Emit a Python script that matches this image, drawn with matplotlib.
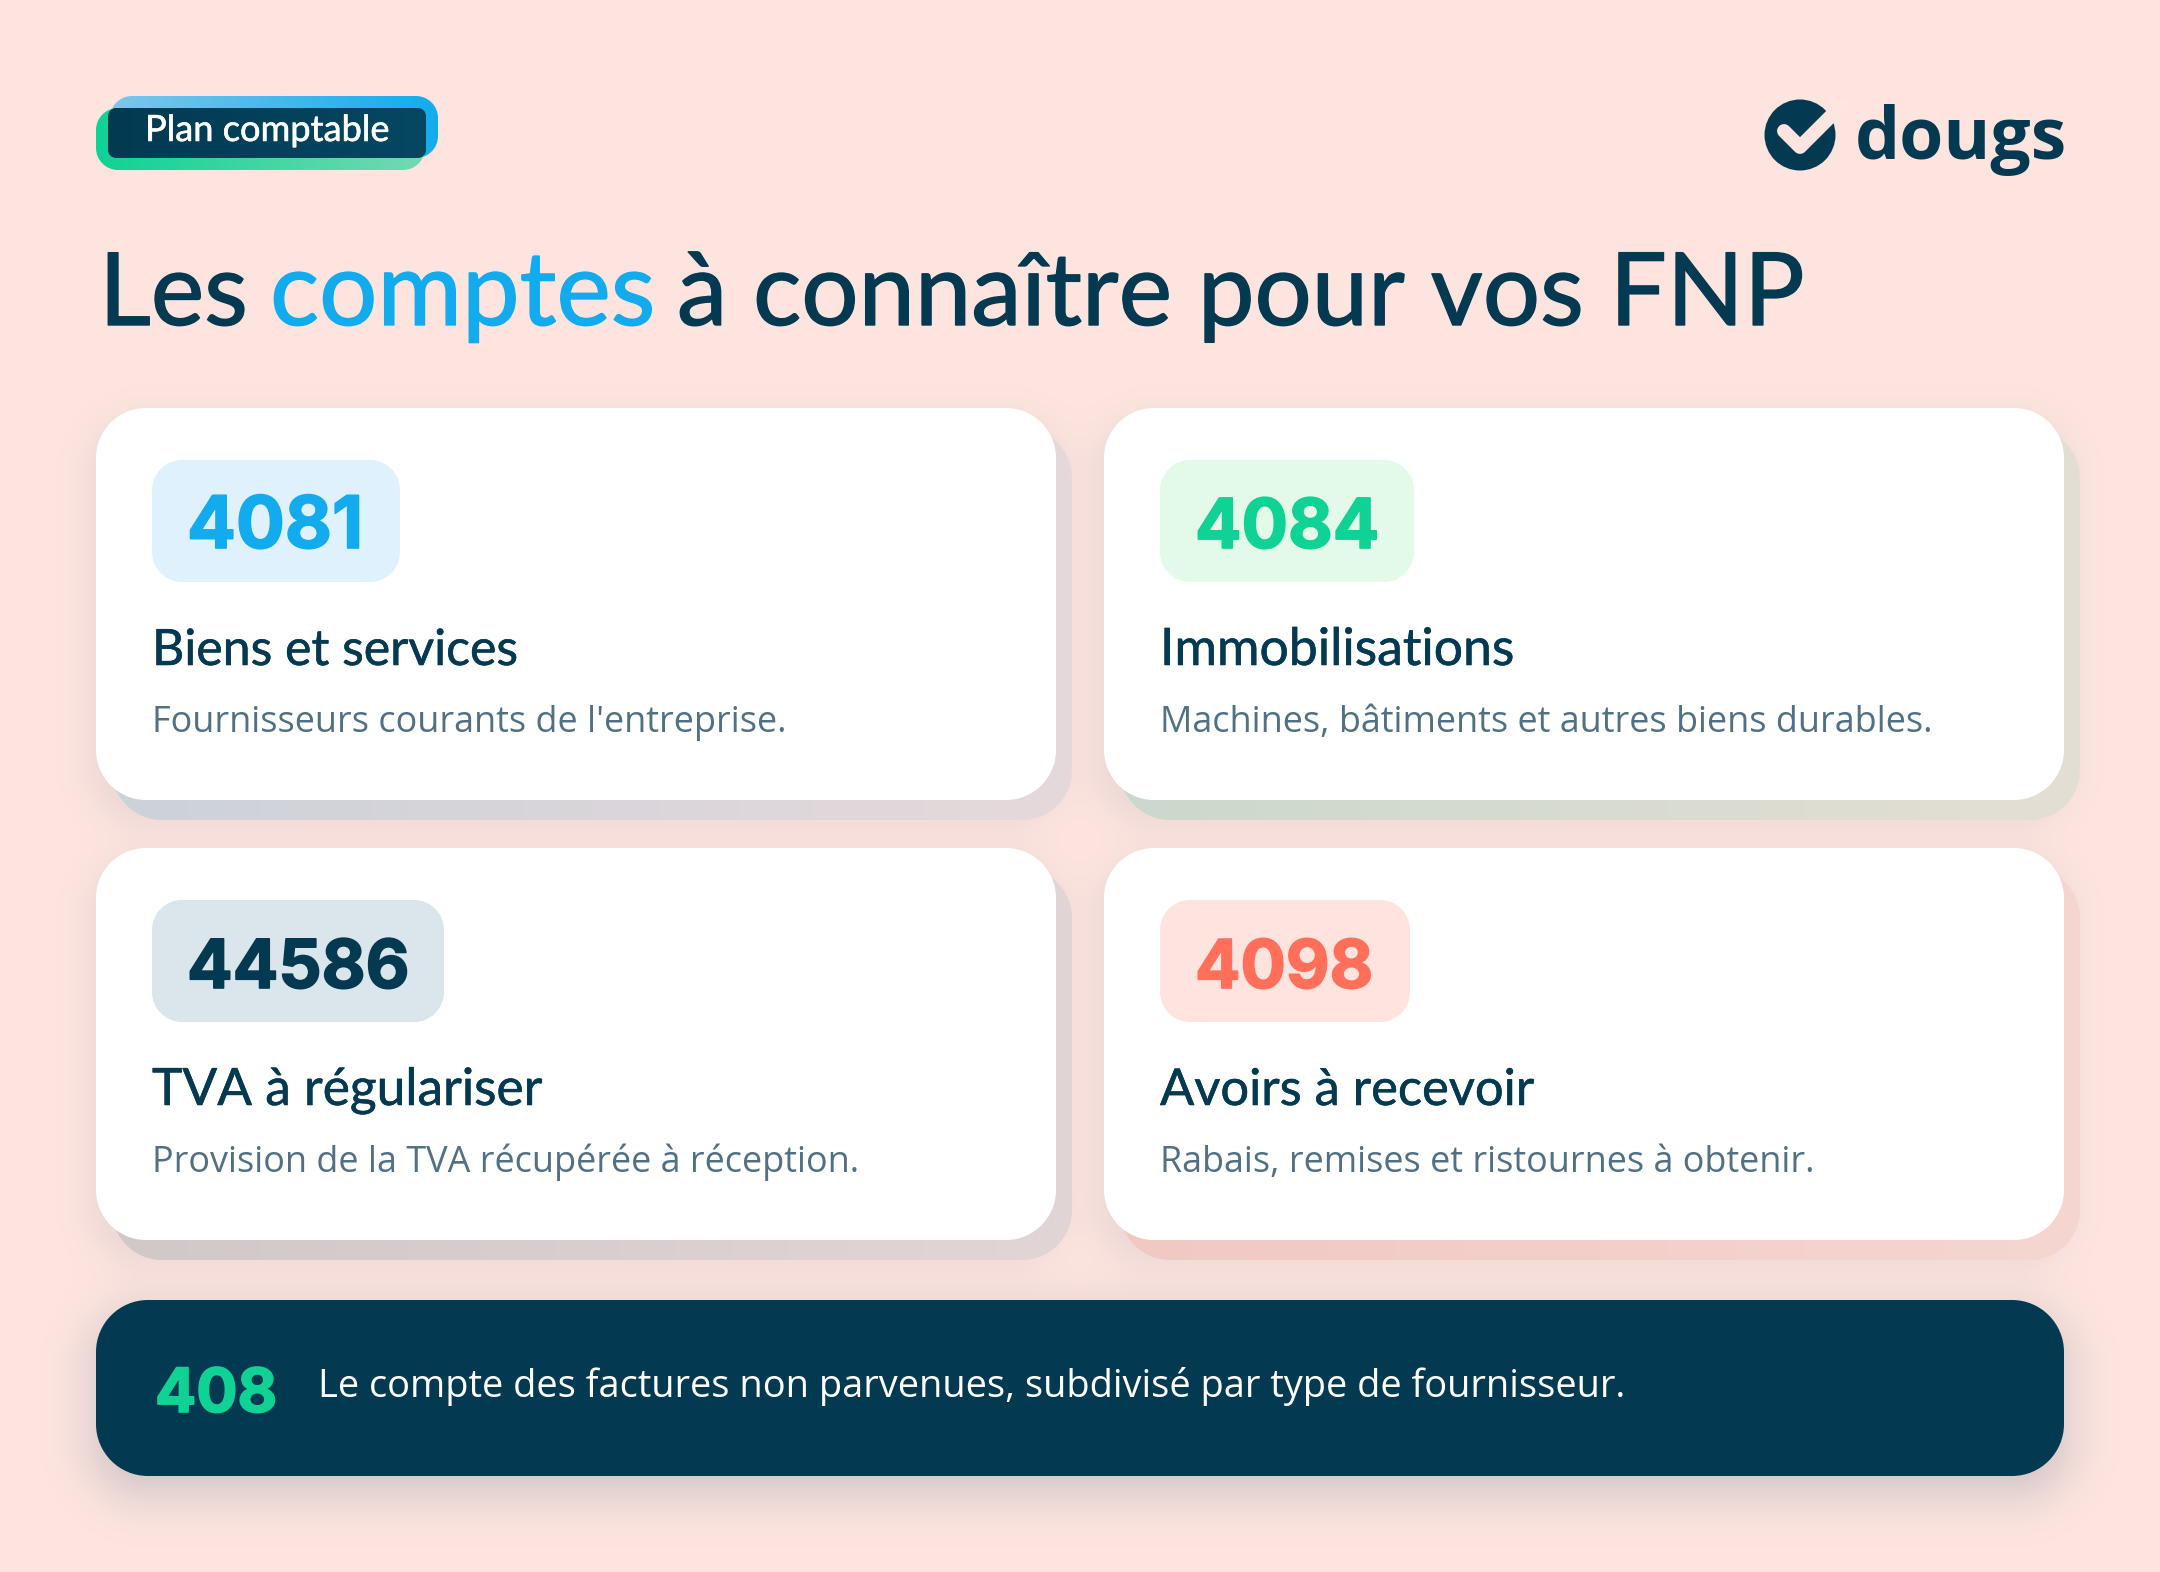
import numpy as np
import matplotlib
matplotlib.use('Agg')
import matplotlib.pyplot as plt
from matplotlib.patches import PathPatch, Circle
from matplotlib.path import Path
import matplotlib.patheffects as pe

W, H = 2160, 1572

BG = '#FFE5E0'
NAVY = '#033A51'
BLUE = '#12ACEE'
GREEN = '#10D294'
CORAL = '#FF6F59'
GREY = '#527083'

codes = ['4081', '4084', '44586', '4098']
titles = ['Biens et services', 'Immobilisations', 'TVA à régulariser', 'Avoirs à recevoir']
descs = ['Fournisseurs courants de l\'entreprise.',
         'Machines, bâtiments et autres biens durables.',
         'Provision de la TVA récupérée à réception.',
         'Rabais, remises et ristournes à obtenir.']
code_colors = [BLUE, GREEN, NAVY, CORAL]
chip_colors = ['#DFF1FC', '#E4FAE9', '#DAE6EB', '#FFE3DE']
# couleur de l'ombre pleine, gauche puis droite
edge_left = ['#CCD2D9', '#CCD8CD', '#D1C8C8', '#F2C8C3']
edge_right = ['#E6D9DB', '#E4DFD4', '#E2D5D6', '#F5D6D1']

card_x = [96, 1104, 96, 1104]
card_y = [408, 408, 848, 848]
chip_w = [248, 254, 292, 250]
# largeurs de texte mesurées sur la référence
code_ends = [363, 1379, 409, 1373]
title_ends = [518, 1514, 542, 1534]
desc_ends = [787, 1934, 860, 1816]

fig = plt.figure(figsize=(W / 100, H / 100), dpi=100)
ax = fig.add_axes([0, 0, 1, 1])
ax.axis('off')


def hex_rgb(c):
    return np.array(matplotlib.colors.to_rgb(c))


def round_box(x, y, w, h, r, **kw):
    # coins circulaires (boxstyle round donne des coins trop carrés)
    k = r * 0.448
    x1, y1 = x + w, y + h
    verts = [(x + r, y), (x1 - r, y), (x1 - k, y), (x1, y + k), (x1, y + r),
             (x1, y1 - r), (x1, y1 - k), (x1 - k, y1), (x1 - r, y1),
             (x + r, y1), (x + k, y1), (x, y1 - k), (x, y1 - r),
             (x, y + r), (x, y + k), (x + k, y), (x + r, y), (x + r, y)]
    c4 = Path.CURVE4
    ops = [Path.MOVETO, Path.LINETO, c4, c4, c4, Path.LINETO, c4, c4, c4,
           Path.LINETO, c4, c4, c4, Path.LINETO, c4, c4, c4, Path.CLOSEPOLY]
    p = PathPatch(Path(verts, ops), lw=0, **kw)
    ax.add_patch(p)
    return p


def gradient(patch, x, y, w, h, left, right, z):
    g = np.linspace(0, 1, 256)[None, :, None]
    img = hex_rgb(left) * (1 - g) + hex_rgb(right) * g
    im = ax.imshow(img, extent=(x, x + w, y + h, y), aspect='auto', zorder=z,
                   interpolation='bilinear')
    im.set_clip_path(patch)


def place(s, x0, x1, base, family, weight, color, size=30, z=10, bold=0):
    # on ajuste le corps pour retrouver la largeur de la référence
    t = ax.text(x0, base, s, family=family, weight=weight, color=color, fontsize=size,
                va='baseline', ha='left', zorder=z)
    w = t.get_window_extent(fig.canvas.get_renderer()).width
    t.set_fontsize(size * (x1 - x0) / w)
    if bold:
        t.set_path_effects([pe.withStroke(linewidth=bold, foreground=color)])
    return t


# fond + ombres floues
yy, xx = np.mgrid[0:H, 0:W] + 0.5


def soft_shadow(x, y, w, h, r, sigma):
    cx, cy = x + w / 2, y + h / 2
    dx = np.abs(xx - cx) - (w / 2 - r)
    dy = np.abs(yy - cy) - (h / 2 - r)
    d = np.hypot(np.maximum(dx, 0), np.maximum(dy, 0)) + np.minimum(np.maximum(dx, dy), 0) - r
    return 1 / (1 + np.exp(np.clip(d / sigma, -30, 30)))


alpha = np.zeros((H, W))
for x, y in zip(card_x, card_y):
    alpha = 1 - (1 - alpha) * (1 - 0.10 * soft_shadow(x, y + 16, 960, 392, 50, 14))
alpha = 1 - (1 - alpha) * (1 - 0.20 * soft_shadow(96, 1316, 1968, 176, 52, 16))
a = alpha[:, :, None]
ax.imshow(hex_rgb(BG) * (1 - a) + hex_rgb(NAVY) * a, extent=(0, W, H, 0), aspect='auto', zorder=0)

# pastille "Plan comptable"
p = round_box(110, 96, 328, 62, 22, facecolor='none')
gradient(p, 110, 96, 328, 62, '#7FC6EA', BLUE, 1)
p = round_box(96, 108, 329, 62, 22, facecolor='none')
gradient(p, 96, 108, 329, 62, GREEN, '#72DAB2', 2)
p = round_box(108, 108, 318, 50, 8, facecolor='none')
gradient(p, 108, 108, 318, 50, '#023A52', '#064761', 3)
place('Plan comptable', 145, 389, 141, 'Lato', 'normal', 'white', bold=0.4)

# logo
ax.add_patch(Circle((1800, 135), 35.5, facecolor=NAVY, lw=0, zorder=2))
ax.plot([1784, 1800, 1842], [131, 147, 105], color=BG, lw=10, solid_capstyle='round',
        solid_joinstyle='round', zorder=3)
place('dougs', 1855, 2067, 159, 'Open Sans', 'bold', NAVY)

# titre
place('Les', 99, 248, 325, 'Lato', 'normal', NAVY, bold=1)
place('comptes', 270, 655, 325, 'Lato', 'normal', BLUE, bold=1)
place('à connaître pour vos FNP', 677, 1803, 325, 'Lato', 'normal', NAVY, bold=1)

# cartes
for i in range(len(codes)):
    x, y = card_x[i], card_y[i]
    p = round_box(x + 16, y + 20, 960, 392, 50, facecolor='none')
    gradient(p, x + 16, y + 20, 960, 392, edge_left[i], edge_right[i], 2)
    round_box(x, y, 960, 392, 50, facecolor='white', zorder=3)
    round_box(x + 56, y + 52, chip_w[i], 122, 30, facecolor=chip_colors[i], zorder=4)
    place(codes[i], x + 91, code_ends[i], y + 140, 'Inter', 'bold', code_colors[i], bold=1.2)
    place(titles[i], x + 56, title_ends[i], y + 257, 'Lato', 'normal', NAVY, bold=0.4)
    place(descs[i], x + 56, desc_ends[i], y + 324, 'Open Sans', 'normal', GREY)

# bandeau du bas
round_box(96, 1300, 1968, 176, 52, facecolor=NAVY, zorder=3)
place('408', 155, 277, 1412, 'Inter', 'bold', GREEN, bold=1.2)
place('Le compte des factures non parvenues, subdivisé par type de fournisseur.',
      318, 1626, 1397, 'Open Sans', 'normal', 'white')

ax.set_xlim(0, W)
ax.set_ylim(H, 0)
fig.savefig('out.png', dpi=100)
